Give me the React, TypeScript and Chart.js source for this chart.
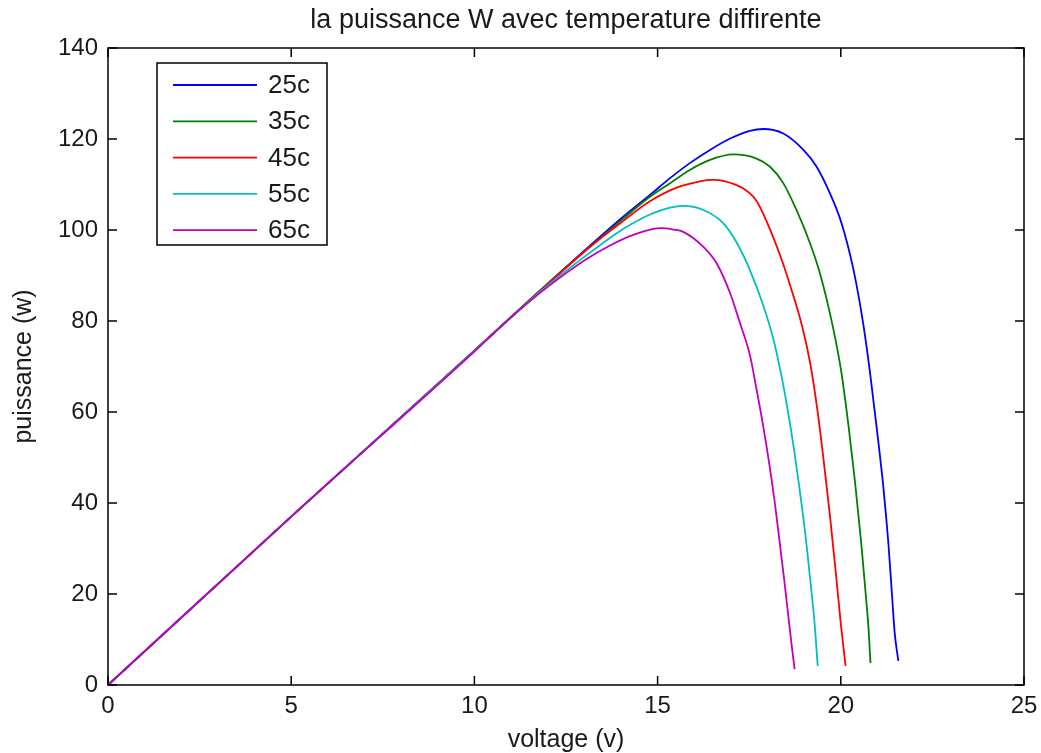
import React, { useEffect, useRef } from "react";
import { Chart, registerables } from "chart.js";

Chart.register(...registerables);

const titleText = "la puissance W avec temperature diffirente";
const xLabel = "voltage (v)";
const yLabel = "puissance (w)";

const labels = ["25c", "35c", "45c", "55c", "65c"];
const colors = ["#0000ff", "#008000", "#ff0000", "#00bfbf", "#bf00bf"];

const v25 = [0, 5, 10, 12, 14.06, 14.79, 15.34, 15.88, 16.43, 16.98, 17.52, 17.88, 18.43, 18.98, 19.34, 19.7, 20.02, 20.34, 20.61, 20.8, 20.98, 21.16, 21.3, 21.4, 21.47, 21.57];
const p25 = [0, 37, 73.5, 88.2, 102.9, 107.7, 111.4, 114.7, 117.6, 120.1, 121.8, 122.2, 121.2, 117.6, 113.9, 108.1, 101.5, 91.5, 79.5, 68.5, 56.5, 43.6, 31.0, 19.5, 11.5, 5.3];

const v35 = [0, 5, 10, 12, 14.06, 14.79, 15.34, 15.88, 16.43, 17.07, 17.7, 18.07, 18.43, 18.79, 19.16, 19.43, 19.79, 20.02, 20.21, 20.39, 20.56, 20.68, 20.76, 20.81];
const p35 = [0, 37, 73.5, 88.2, 102.5, 107.3, 110.3, 113.2, 115.4, 116.6, 115.7, 113.9, 110.3, 104.4, 97.1, 90.5, 78.5, 68.5, 57.0, 44.5, 31.0, 20.0, 12.0, 4.8];

const v45 = [0, 5, 10, 12, 13.2, 14.06, 14.79, 15.52, 16.16, 16.5, 16.79, 17.34, 17.7, 17.97, 18.34, 18.65, 18.95, 19.17, 19.36, 19.53, 19.7, 19.86, 20.0, 20.13];
const p45 = [0, 37, 73.5, 88.1, 96.6, 102.0, 106.3, 109.3, 110.7, 111.0, 110.8, 109.1, 106.4, 102.0, 94.5, 87.0, 78.7, 70.5, 60.5, 49.5, 37.5, 25.0, 13.5, 4.2];

const v55 = [0, 5, 10, 12, 13.2, 14.06, 14.79, 15.34, 15.7, 16.25, 16.79, 17.16, 17.52, 17.88, 18.16, 18.38, 18.55, 18.72, 18.86, 18.99, 19.09, 19.18, 19.28, 19.37];
const p55 = [0, 37, 73.5, 87.8, 95.3, 100.2, 103.4, 104.9, 105.3, 104.4, 101.5, 97.2, 91.2, 83.5, 76.0, 68.0, 60.5, 52.0, 44.0, 36.0, 29.0, 22.0, 14.0, 4.2];

const v65 = [0, 5, 10, 11, 12, 13, 13.7, 14.43, 15.1, 15.43, 15.7, 16.25, 16.61, 16.98, 17.25, 17.52, 17.7, 17.88, 18.05, 18.2, 18.33, 18.45, 18.57, 18.67, 18.74];
const p65 = [0, 37, 73.3, 80.8, 87.5, 93.3, 96.6, 99.2, 100.4, 100.1, 99.6, 96.3, 92.7, 86.1, 79.5, 72.5, 65.0, 57.0, 48.5, 40.0, 31.5, 23.5, 15.0, 8.0, 3.5];

const xTicks = [0, 5, 10, 15, 20, 25];
const yTicks = [0, 20, 40, 60, 80, 100, 120, 140];

const seriesV = [v25, v35, v45, v55, v65];
const seriesP = [p25, p35, p45, p55, p65];

const FONT = "'Liberation Sans', Arial, sans-serif";
const TEXT = "#1a1a1a";

const framePlugin = {
  id: "matlabFrame",
  afterDatasetsDraw(chart: any) {
    const { ctx, chartArea: a, scales } = chart;
    const xs = scales.x;
    const ys = scales.y;
    ctx.save();
    // title
    ctx.fillStyle = TEXT;
    ctx.font = `27px ${FONT}`;
    ctx.textAlign = "center";
    ctx.textBaseline = "middle";
    ctx.fillText(titleText, (a.left + a.right) / 2, 21);

    ctx.strokeStyle = "#000";
    ctx.lineWidth = 1.5;
    ctx.strokeRect(a.left, a.top, a.right - a.left, a.bottom - a.top);
    const tl = 9;
    ctx.beginPath();
    xTicks.forEach((t) => {
      const px = xs.getPixelForValue(t);
      ctx.moveTo(px, a.bottom);
      ctx.lineTo(px, a.bottom - tl);
      ctx.moveTo(px, a.top);
      ctx.lineTo(px, a.top + tl);
    });
    yTicks.forEach((t) => {
      const py = ys.getPixelForValue(t);
      ctx.moveTo(a.left, py);
      ctx.lineTo(a.left + tl, py);
      ctx.moveTo(a.right, py);
      ctx.lineTo(a.right - tl, py);
    });
    ctx.stroke();

    // legend box
    const bx = a.left + 49;
    const by = a.top + 15;
    const bw = 170;
    const bh = 182;
    ctx.fillStyle = "#fff";
    ctx.fillRect(bx, by, bw, bh);
    ctx.strokeStyle = "#000";
    ctx.lineWidth = 1.5;
    ctx.strokeRect(bx, by, bw, bh);
    ctx.font = `26px ${FONT}`;
    ctx.textBaseline = "middle";
    ctx.textAlign = "left";
    chart.data.datasets.forEach((ds: any, i: number) => {
      const ry = by + 22 + i * 36.3;
      ctx.strokeStyle = ds.borderColor;
      ctx.lineWidth = 1.8;
      ctx.beginPath();
      ctx.moveTo(bx + 16, ry);
      ctx.lineTo(bx + 100, ry);
      ctx.stroke();
      ctx.fillStyle = TEXT;
      ctx.fillText(ds.label, bx + 111, ry + 1);
    });
    ctx.restore();
  },
};

export default function App() {
  const ref = useRef<HTMLCanvasElement | null>(null);
  useEffect(() => {
    document.body.style.margin = "0";
    if (!ref.current) return;
    const datasets = labels.map((lab, i) => ({
      label: lab,
      data: seriesV[i].map((v, j) => ({ x: v, y: seriesP[i][j] })),
      borderColor: colors[i],
      backgroundColor: colors[i],
      borderWidth: 1.8,
      pointRadius: 0,
      cubicInterpolationMode: "monotone" as const,
      fill: false,
      order: labels.length - 1 - i,
    }));
    const chart = new Chart(ref.current, {
      type: "line",
      data: { datasets },
      plugins: [framePlugin],
      options: {
        responsive: false,
        animation: false,
        layout: { padding: { left: 0, right: 17, top: 48, bottom: 0 } },
        plugins: {
          legend: { display: false },
          tooltip: { enabled: false },
          title: { display: false },
        },
        scales: {
          x: {
            type: "linear",
            min: 0,
            max: 25,
            afterFit: (s: any) => {
              s.height = 68;
              s.paddingLeft = 0;
              s.paddingRight = 0;
            },
            afterBuildTicks: (s: any) => {
              s.ticks = xTicks.map((v) => ({ value: v }));
            },
            grid: { display: false, drawTicks: false },
            border: { display: false },
            ticks: {
              padding: 7,
              color: TEXT,
              font: { family: FONT, size: 24 },
              maxRotation: 0,
            },
            title: {
              display: true,
              text: xLabel,
              color: TEXT,
              font: { family: FONT, size: 25 },
              padding: { top: 0, bottom: -2 },
            },
          },
          y: {
            type: "linear",
            min: 0,
            max: 140,
            afterFit: (s: any) => {
              s.width = 108;
              s.paddingTop = 0;
              s.paddingBottom = 0;
            },
            afterBuildTicks: (s: any) => {
              s.ticks = yTicks.map((v) => ({ value: v }));
            },
            grid: { display: false, drawTicks: false },
            border: { display: false },
            ticks: {
              padding: 10,
              color: TEXT,
              font: { family: FONT, size: 24 },
            },
            title: {
              display: true,
              text: yLabel,
              color: TEXT,
              font: { family: FONT, size: 25 },
              padding: { top: 9, bottom: 0 },
            },
          },
        },
      },
    });
    return () => chart.destroy();
  }, []);
  return (
    <div style={{ width: 1041, height: 753 }}>
      <canvas ref={ref} width={1041} height={753} style={{ display: "block" }} />
    </div>
  );
}
